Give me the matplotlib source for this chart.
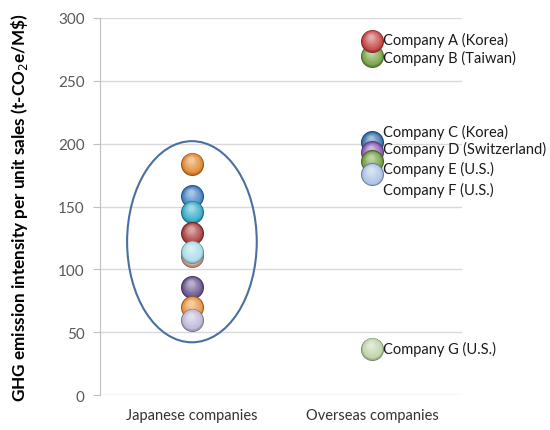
import numpy as np
import matplotlib
matplotlib.use("Agg")
import matplotlib.pyplot as plt
import matplotlib.colors as mcolors
from matplotlib.patches import Ellipse
from matplotlib.transforms import offset_copy

plt.rcParams["font.family"] = ["Lato", "DejaVu Sans"]

# ---------------------------------------------------------------
# data: GHG emission intensity per unit sales (t-CO2e / M$)
# ---------------------------------------------------------------
categories = ["Japanese companies", "Overseas companies"]

japan_values = [184, 158, 146, 129, 111, 114, 86, 70, 60]
japan_colors = ["#E0842A", "#3F7EC2", "#2FA8C6", "#A83A3A", "#D8A090",
                "#A6DCE8", "#64508C", "#E8903A", "#BDB6D6"]

overseas_names = ["Company B (Taiwan)", "Company A (Korea)", "Company C (Korea)",
                  "Company D (Switzerland)", "Company E (U.S.)", "Company F (U.S.)",
                  "Company G (U.S.)"]
overseas_values = [270, 282, 201, 193, 186, 176, 37]
overseas_colors = ["#72A040", "#C23F3C", "#336CAA", "#8A5AB2", "#6E9A3E",
                   "#A9C2E4", "#BDD2A6"]

# vertical label offsets (points) so the stacked names do not collide
label_dy = {"Company A (Korea)": 1, "Company B (Taiwan)": -1, "Company C (Korea)": 8,
            "Company D (Switzerland)": 3, "Company E (U.S.)": -5,
            "Company F (U.S.)": -11, "Company G (U.S.)": 0}

fig = plt.figure(figsize=(5.5, 4.31), dpi=100)
ax = fig.add_axes([0.182, 0.081, 0.658, 0.875])


def sphere(ax, x, y, color, z, radius=11.5):
    """Fake a shaded 3D bubble by stacking lighter, smaller discs toward the top."""
    base = np.array(mcolors.to_rgb(color))
    dark = base * 0.62
    pts = radius * 72 / fig.dpi
    ax.scatter([x], [y], s=(2 * pts) ** 2, color=dark, zorder=z, linewidths=0)
    n = 14
    for k in range(n):
        t = k / (n - 1)
        r = radius * (0.93 - 0.72 * t)
        c = base * (1 - 0.55 * t) + np.ones(3) * 0.55 * t
        if k == 0:
            c = base * 0.85
        c = np.clip(c, 0, 1)
        tr = offset_copy(ax.transData, fig=fig, x=-0.8 * t, y=4.0 * t, units="dots")
        rp = r * 72 / fig.dpi
        ax.scatter([x], [y], s=(2 * rp) ** 2, color=c, zorder=z + 0.001 * (k + 1),
                   linewidths=0, transform=tr)


for i, (v, c) in enumerate(zip(japan_values, japan_colors)):
    sphere(ax, 1, v, c, z=3 + 0.05 * i)

for i, (name, v, c) in enumerate(zip(overseas_names, overseas_values, overseas_colors)):
    sphere(ax, 2, v, c, z=3 + 0.05 * i)
    ax.annotate(name, (2, v), xytext=(8, label_dy[name]), textcoords="offset points",
                ha="left", va="center", fontsize=10.5, color="#1a1a1a", zorder=10)

# ring around the Japanese cluster
ax.add_patch(Ellipse((1, 122), width=0.72, height=160, fill=False,
                     edgecolor="#4A6FA0", linewidth=1.5, zorder=8))

ax.set_xlim(0.49, 2.5)
ax.set_ylim(0, 300)
ax.set_yticks(np.arange(0, 301, 50))
ax.set_xticks([1, 2])
ax.set_xticklabels(categories, fontsize=10.5, color="#333333")
ax.tick_params(axis="x", length=0, pad=9)
ax.tick_params(axis="y", length=5, width=0.8, color="#BFBFBF", labelsize=11,
               labelcolor="#595959", pad=6)
ax.grid(axis="y", color="#D9D9D9", linewidth=1.0, zorder=0)
ax.set_axisbelow(True)
for side in ["top", "right", "bottom"]:
    ax.spines[side].set_visible(False)
ax.spines["left"].set_color("#BFBFBF")
ax.set_ylabel(r"GHG emission intensity per unit sales (t-CO$_{2}$e/M\$)",
              fontsize=12.3, fontweight="bold", labelpad=20)

fig.savefig("out.png", dpi=100)
